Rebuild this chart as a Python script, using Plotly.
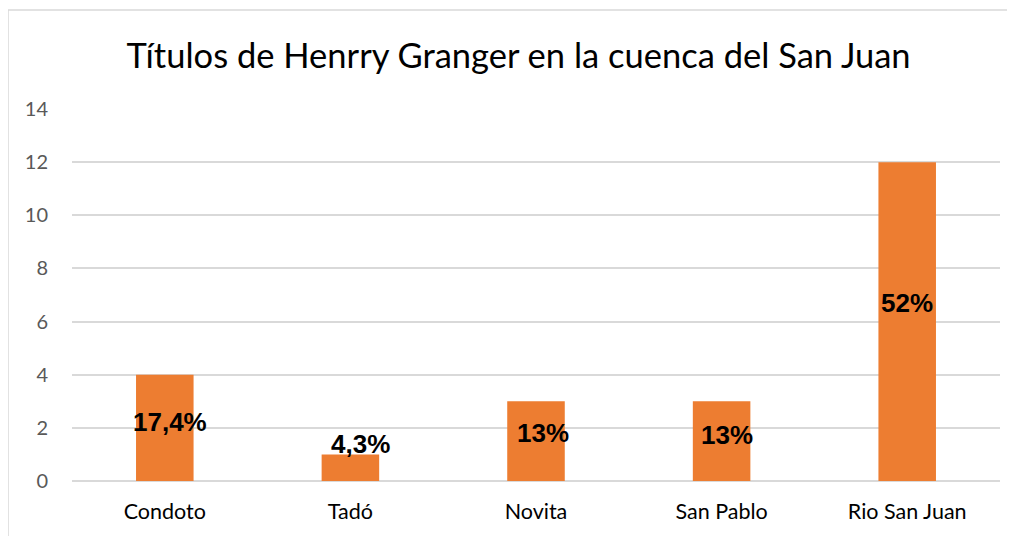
import plotly.graph_objects as go

categories = ["Condoto", "Tadó", "Novita", "San Pablo", "Rio San Juan"]
values = [4, 1, 3, 3, 12]
labels = ["17,4%", "4,3%", "13%", "13%", "52%"]
label_y = [2.23, 1.38, 1.8, 1.75, 6.7]
label_dx = [5, 10, 7, 5, 0]
y_ticks = [0, 2, 4, 6, 8, 10, 12, 14]

fig = go.Figure()
fig.add_trace(go.Bar(x=categories, y=values, marker=dict(color="#ED7D31", line=dict(width=0)),
                     hoverinfo="skip"))

for c, t, y, dx in zip(categories, labels, label_y, label_dx):
    fig.add_annotation(x=c, y=y, text="<b>%s</b>" % t, showarrow=False, xshift=dx,
                       font=dict(family="Liberation Sans, Arial", size=26, color="#000000"))

fig.update_layout(
    width=1007, height=528,
    margin=dict(l=64, r=15, t=101, b=55),
    paper_bgcolor="white", plot_bgcolor="white",
    bargap=0.69,
    showlegend=False,
    title=dict(text="Títulos de Henrry Granger en la cuenca del San Juan",
               x=0.507, xanchor="center", y=0.909, yanchor="middle",
               font=dict(family="Lato, Carlito, Calibri", size=34.5, color="#000000")),
    xaxis=dict(showgrid=False, showline=False, ticks="", ticklabelstandoff=15,
               tickfont=dict(family="Lato, Carlito, Calibri", size=21.5, color="#000000")),
    yaxis=dict(range=[0, 14], tickvals=y_ticks, showgrid=True, gridcolor="#D9D9D9", gridwidth=1.5,
               zeroline=True, zerolinecolor="#D9D9D9", zerolinewidth=1.5, showline=False, ticks="",
               ticklabelstandoff=23,
               tickfont=dict(family="Lato, Carlito, Calibri", size=20, color="#595959")),
    shapes=[dict(type="rect", xref="paper", yref="paper", x0=-64/928, x1=1.05, y0=-0.5, y1=1 + 99/372,
                 line=dict(color="#D9D9D9", width=1.5), fillcolor="rgba(0,0,0,0)", layer="below")],
)

fig.write_html("out.html")
